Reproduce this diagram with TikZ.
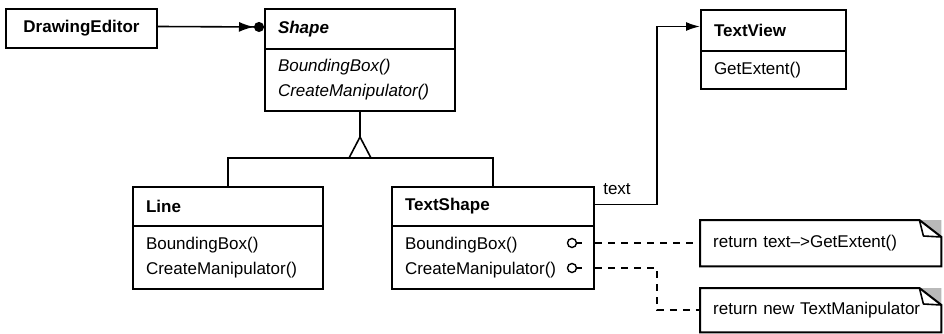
\documentclass[tikz,border=0pt]{standalone}
\usepackage{fontspec}
\setmainfont{Liberation Sans}
\usetikzlibrary{arrows.meta,calc}
\tikzset{
  txt/.style={font=\fontsize{17}{25}\selectfont},
  box/.style={draw, line width=2pt, rectangle, inner xsep=13pt, inner ysep=0pt,
    align=left, anchor=north west, txt},
  ttl/.style={box, font=\fontsize{17}{25}\selectfont\bfseries},
  body/.style={box},
  notebox/.style={rectangle, inner xsep=13pt, inner ysep=0pt, align=left,
    anchor=north west, txt, minimum width=241pt, text width=215pt},
  conn/.style={line width=1.6pt},
  dashline/.style={line width=1.6pt, dash pattern=on 7pt off 6pt},
  pin/.style={circle, draw, line width=1.4pt, inner sep=0pt, minimum size=9pt, fill=white},
}
\begin{document}
\begin{tikzpicture}[x=1pt,y=-1pt]
\useasboundingbox (0,0) rectangle (944,334);
% classes
\node[ttl, text width=125pt, minimum height=39pt, align=center] (de) at (5,8) {DrawingEditor};
\node[ttl, font=\fontsize{17}{25}\selectfont\bfseries\itshape, text width=164pt, minimum height=40pt] (sht) at (264,8) {Shape};
\node[body, font=\fontsize{17}{25}\selectfont\itshape, text width=164pt, minimum height=62pt] (shb) at (264,48) {BoundingBox()\\CreateManipulator()};
\node[ttl, text width=119pt, minimum height=41pt] (tvt) at (700,9) {TextView};
\node[body, text width=119pt, minimum height=38pt] (tvb) at (700,50) {GetExtent()};
\node[ttl, text width=164pt, minimum height=39pt] (lnt) at (132,186) {Line};
\node[body, text width=164pt, minimum height=63pt] (lnb) at (132,225) {BoundingBox()\\CreateManipulator()};
\node[ttl, text width=176pt, minimum height=39pt] (tst) at (391,186) {TextShape};
\node[body, text width=176pt, minimum height=63pt] (tsb) at (391,225) {BoundingBox()\\CreateManipulator()};
% notes
\node[notebox, minimum height=46pt] (n1) at (700,220) {return text{--}>GetExtent()};
\node[notebox, minimum height=44pt] (n2) at (700,288) {return new TextManipulator};
\foreach \n in {n1,n2}{
  \fill[gray!55] ([xshift=-22pt]\n.north east) -- (\n.north east) -- ([yshift=-17pt]\n.north east) -- cycle;
  \draw[line width=2pt, line join=miter] (\n.north west) -- ([xshift=-22pt]\n.north east) -- ([yshift=-17pt]\n.north east) -- (\n.south east) -- (\n.south west) -- cycle;
  \draw[line width=1.6pt, line join=round] ([xshift=-22pt]\n.north east) -- ([xshift=-18pt,yshift=-16pt]\n.north east) -- ([yshift=-17pt]\n.north east);
}
% DrawingEditor -> Shape
\draw[conn, -{Latex[length=15pt,width=10pt]Circle[length=10pt]}] ([yshift=2pt]de.east) -- ([yshift=2pt]sht.west);
% inheritance
\draw[conn] (shb.south) -- ++(0,25) coordinate (apex);
\coordinate (bar) at ($(apex)+(0,21)$);
\draw[conn] (lnt.north) |- (bar) -| (tst.north);
\draw[conn, fill=white, line join=miter] (apex) -- ++(-11,21) -- ++(22,0) -- cycle;
% TextShape -> TextView
\draw[conn, -{Latex[length=14pt,width=9pt]}] ([yshift=2pt]tst.east) -- ++(62,0) coordinate (bend) |- ([yshift=4pt]tvt.west);
\node[txt, inner sep=0pt] (lbl) at (617,189) {text};
% implementation notes
\node[pin] (c1) at (572,243) {};
\node[pin] (c2) at (572,268) {};
\draw[conn] (c1.east) -- ++(5,0);
\draw[conn] (c2.east) -- ++(5,0);
\draw[dashline] (tsb.east |- c1) -- (n1.west |- c1);
\draw[dashline] (tsb.east |- c2) -- (bend |- c2) |- (n2.west);
\end{tikzpicture}
\end{document}
